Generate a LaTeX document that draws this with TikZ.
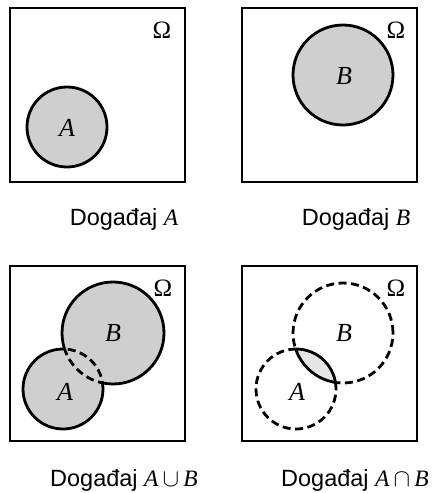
\documentclass[tikz,border=0pt]{standalone}
\usepackage{fontspec}
\setmainfont{Liberation Serif}
\newfontfamily\lsans{Liberation Sans}
\begin{document}
\begin{tikzpicture}[x=1pt,y=-1pt,
  frame/.style={draw=black,line width=1.8pt},
  setfill/.style={fill=black!19},
  lensfill/.style={fill=black!10},
  edge/.style={draw=black,line width=2.8pt},
  dashedge/.style={draw=black,line width=2.8pt,dash pattern=on 8pt off 4.5pt},
  sym/.style={font=\fontsize{26}{30}\selectfont\itshape,inner sep=0pt},
  omega/.style={font=\fontsize{25}{30}\selectfont,inner sep=0pt},
  captext/.style={font=\fontsize{23.5}{28}\selectfont\lsans,anchor=base,inner sep=0pt}]
\useasboundingbox (0,0) rectangle (433,493);
% ---- panel 1
\draw[frame] (10,8) rectangle (185,182);
\path[setfill,edge] (67,127) circle[radius=40pt];
\node[sym] (lA1) at (67,128) {A};
\node[omega] (o1) at (162,30) {Ω};
\node[captext] (c1) at (124,225) {Događaj {\rmfamily\itshape A}};
% ---- panel 2
\draw[frame] (242,8) rectangle (417,182);
\path[setfill,edge] (343,75) circle[radius=50pt];
\node[sym] (lB2) at (344,76) {B};
\node[omega] (o2) at (396,30) {Ω};
\node[captext] (c2) at (356,225) {Događaj {\rmfamily\itshape B}};
% ---- panel 3 (union)
\draw[frame] (10,266) rectangle (185,441);
\fill[black!19] (63,389) circle[radius=40pt];
\fill[black!19] (113,333) circle[radius=51pt];
\begin{scope}[even odd rule]
  \clip (0,250) rectangle (200,460) (113,333) circle[radius=51pt];
  \draw[edge] (63,389) circle[radius=40pt];
\end{scope}
\begin{scope}[even odd rule]
  \clip (0,250) rectangle (200,460) (63,389) circle[radius=40pt];
  \draw[edge] (113,333) circle[radius=51pt];
\end{scope}
\begin{scope}
  \clip (113,333) circle[radius=51pt];
  \draw[dashedge] (63,389) circle[radius=40pt];
\end{scope}
\begin{scope}
  \clip (63,389) circle[radius=40pt];
  \draw[dashedge] (113,333) circle[radius=51pt];
\end{scope}
\node[sym] (lB3) at (113,333) {B};
\node[sym] (lA3) at (65,392) {A};
\node[omega] (o3) at (163,288) {Ω};
\node[captext] (c3) at (124,486) {Događaj {\rmfamily\itshape A}$\,\cup\,${\rmfamily\itshape B}};
% ---- panel 4 (intersection)
\draw[frame] (242,266) rectangle (417,441);
\begin{scope}
  \clip (343,333) circle[radius=50pt];
  \fill[black!10] (296,389) circle[radius=40pt];
\end{scope}
\begin{scope}[even odd rule]
  \clip (230,250) rectangle (430,460) (343,333) circle[radius=50pt];
  \draw[dashedge] (296,389) circle[radius=40pt];
\end{scope}
\begin{scope}[even odd rule]
  \clip (230,250) rectangle (430,460) (296,389) circle[radius=40pt];
  \draw[dashedge] (343,333) circle[radius=50pt];
\end{scope}
\begin{scope}
  \clip (343,333) circle[radius=50pt];
  \draw[edge] (296,389) circle[radius=40pt];
\end{scope}
\begin{scope}
  \clip (296,389) circle[radius=40pt];
  \draw[edge] (343,333) circle[radius=50pt];
\end{scope}
\node[sym] (lB4) at (344,333) {B};
\node[sym] (lA4) at (297,392) {A};
\node[omega] (o4) at (396,288) {Ω};
\node[captext] (c4) at (355,486) {Događaj {\rmfamily\itshape A}$\,\cap\,${\rmfamily\itshape B}};
\end{tikzpicture}
\end{document}
